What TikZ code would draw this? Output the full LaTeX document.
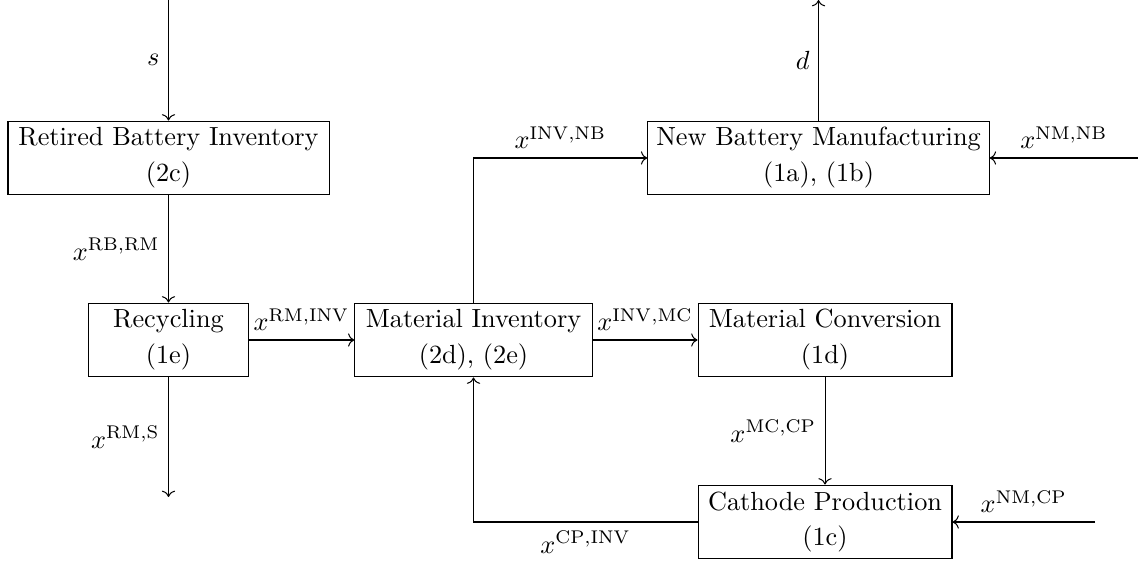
\documentclass[tikz,border=0pt]{standalone}
\usepackage{fix-cm}
\usetikzlibrary{arrows.meta}
\begin{document}
\begin{tikzpicture}[x=0.3922pt,y=-0.3922pt,
  every node/.style={font=\fontsize{10.3}{14.1}\selectfont},
  blk/.style={draw, align=center, minimum height=29pt, inner xsep=3.33pt, inner ysep=2.4pt},
  flow/.style={->}]
\useasboundingbox (0,0) rectangle (1138,565);
% blocks
\node[blk, minimum width=125.9pt] (rbi) at (168.5,158) {Retired Battery Inventory\\(2c)};
\node[blk, minimum width=62.4pt]  (rec) at (168.5,340) {Recycling\\(1e)};
\node[blk, minimum width=93.0pt]  (mi)  at (473.5,340) {Material Inventory\\(2d), (2e)};
\node[blk, minimum width=99.6pt]  (mc)  at (825,340)   {Material Conversion\\(1d)};
\node[blk, minimum width=132.2pt] (nb)  at (818.5,158) {New Battery Manufacturing\\(1a), (1b)};
\node[blk, minimum width=99.6pt]  (cp)  at (825,522)   {Cathode Production\\(1c)};
% free ends
\coordinate (stop) at (168.5,0);
\coordinate (dtop) at (818.5,0);
\coordinate (rmsend) at (168.5,497);
\coordinate (nmnb) at (1138,158);
\coordinate (nmcp) at (1095,522);
% connectors
\draw[flow] (stop) -- node[left] {$s$} (rbi.north);
\draw[flow] (rbi) -- node[left] {$x^{\mathrm{RB,RM}}$} (rec);
\draw[flow] (rec) -- node[left] {$x^{\mathrm{RM,S}}$} (rmsend);
\draw[flow] (rec) -- node[above] {$x^{\mathrm{RM,INV}}$} (mi);
\draw[flow] (mi) -- node[above] {$x^{\mathrm{INV,MC}}$} (mc);
\draw[flow] (mi.north) |- node[pos=0.75, above] {$x^{\mathrm{INV,NB}}$} (nb.west);
\draw[flow] (nb.north) -- node[left] {$d$} (dtop);
\draw[flow] (nmnb) -- node[above] {$x^{\mathrm{NM,NB}}$} (nb.east);
\draw[flow] (mc) -- node[left] {$x^{\mathrm{MC,CP}}$} (cp);
\draw[flow] (nmcp) -- node[above] {$x^{\mathrm{NM,CP}}$} (cp.east);
\draw[flow] (cp.west) -| node[pos=0.25, below] {$x^{\mathrm{CP,INV}}$} (mi.south);
\end{tikzpicture}
\end{document}
